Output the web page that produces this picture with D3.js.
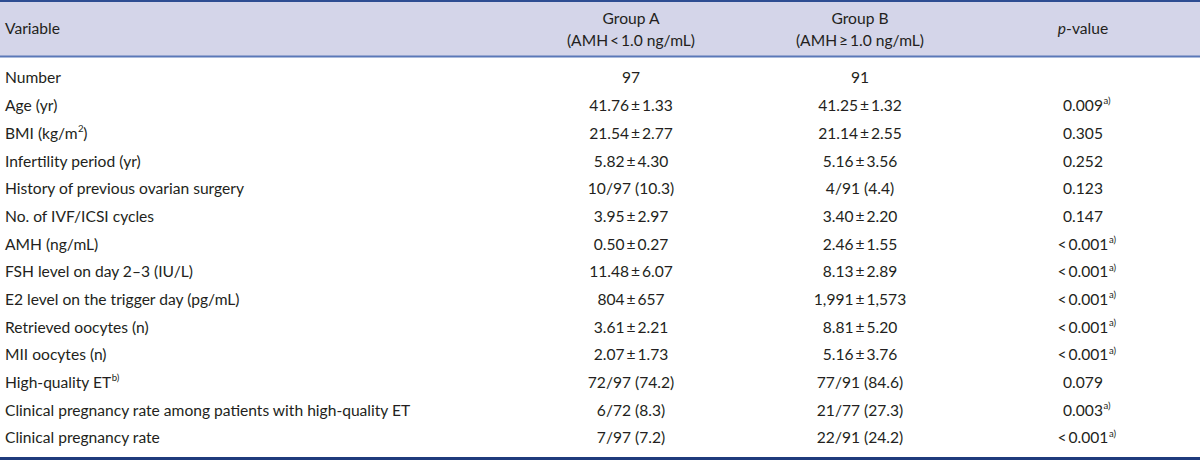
<!DOCTYPE html>
<html><head><meta charset="utf-8">
<script src="https://cdn.jsdelivr.net/npm/d3@7"></script>
<style>html,body{margin:0;padding:0;background:#fff;}svg{display:block;}</style>
</head><body>
<svg id="c" width="1200" height="461"></svg>
<script>
const variables = ["Number","Age (yr)","BMI (kg/m","Infertility period (yr)","History of previous ovarian surgery","No. of IVF/ICSI cycles","AMH (ng/mL)","FSH level on day 2\u20133 (IU/L)","E2 level on the trigger day (pg/mL)","Retrieved oocytes (n)","MII oocytes (n)","High-quality ET","Clinical pregnancy rate among patients with high-quality ET","Clinical pregnancy rate"];
const variableSup = ["","","2)","","","","","","","","","b)","",""];
const groupA = ["97","41.76\u2009\u00b1\u20091.33","21.54\u2009\u00b1\u20092.77","5.82\u2009\u00b1\u20094.30","10/97 (10.3)","3.95\u2009\u00b1\u20092.97","0.50\u2009\u00b1\u20090.27","11.48\u2009\u00b1\u20096.07","804\u2009\u00b1\u2009657","3.61\u2009\u00b1\u20092.21","2.07\u2009\u00b1\u20091.73","72/97 (74.2)","6/72 (8.3)","7/97 (7.2)"];
const groupB = ["91","41.25\u2009\u00b1\u20091.32","21.14\u2009\u00b1\u20092.55","5.16\u2009\u00b1\u20093.56","4/91 (4.4)","3.40\u2009\u00b1\u20092.20","2.46\u2009\u00b1\u20091.55","8.13\u2009\u00b1\u20092.89","1,991\u2009\u00b1\u20091,573","8.81\u2009\u00b1\u20095.20","5.16\u2009\u00b1\u20093.76","77/91 (84.6)","21/77 (27.3)","22/91 (24.2)"];
const pValues = ["","0.009","0.305","0.252","0.123","0.147","<\u20090.001","<\u20090.001","<\u20090.001","<\u20090.001","<\u20090.001","0.079","0.003","<\u20090.001"];
const pSup = ["","a)","","","","","a)","a)","a)","a)","a)","","a)","a)"];
const headerA = ["Group A","(AMH\u2009<\u20091.0 ng/mL)"];
const headerB = ["Group B","(AMH\u2009\u2265\u20091.0 ng/mL)"];

const W = 1200, H = 461;
const svg = d3.select("#c");
const font = "Lato, 'Open Sans', sans-serif";
const ink = "#231f20";
const fs = 15.6;
const supFs = 9.6;

const cols = d3.scaleOrdinal().domain(["var","A","B","p"]).range([5, 631, 860, 1083]);
const y = d3.scaleLinear().domain([0, variables.length - 1]).range([78, 438]);

// header band
svg.append("rect").attr("x", 0).attr("y", 1).attr("width", W).attr("height", 55).attr("fill", "#d4d5e9");
svg.append("line").attr("x1", 0).attr("x2", W).attr("y1", 1).attr("y2", 1).attr("stroke", "#2e4d92").attr("stroke-width", 2);
svg.append("line").attr("x1", 0).attr("x2", W).attr("y1", 56.5).attr("y2", 56.5).attr("stroke", "#5a78b8").attr("stroke-width", 2);
svg.append("line").attr("x1", 0).attr("x2", W).attr("y1", 458.5).attr("y2", 458.5).attr("stroke", "#1f3b7c").attr("stroke-width", 3);

const g = svg.append("g").attr("font-family", font).attr("fill", ink);

function txt(x, yy, s, anchor) {
  return g.append("text").attr("x", x).attr("y", yy).attr("dy", "0.35em")
    .attr("font-size", fs).attr("text-anchor", anchor).text(s);
}
function sup(el, s, anchor) {
  if (!s) return;
  const w = el.node().getComputedTextLength();
  const x0 = +el.attr("x");
  const right = anchor === "middle" ? x0 + w / 2 : x0 + w;
  g.append("text").attr("x", right + 0.5).attr("y", +el.attr("y") - fs * 0.3).attr("dy", "0.35em")
    .attr("font-size", supFs).text(s);
}

// header text
txt(cols("var"), 29, "Variable", "start");
headerA.forEach((s, i) => txt(cols("A"), 19 + i * 22, s, "middle"));
headerB.forEach((s, i) => txt(cols("B"), 19 + i * 22, s, "middle"));
const ph = g.append("text").attr("x", cols("p")).attr("y", 29).attr("dy", "0.35em").attr("font-size", fs).attr("text-anchor", "middle");
ph.append("tspan").attr("font-style", "italic").text("p");
ph.append("tspan").text("-value");

// body
variables.forEach((v, i) => {
  const t = txt(cols("var"), y(i), v, "start");
  if (variableSup[i] === "2)") {
    const w = t.node().getComputedTextLength();
    g.append("text").attr("x", cols("var") + w + 0.5).attr("y", y(i) - fs * 0.3).attr("dy", "0.35em").attr("font-size", supFs).text("2");
    g.append("text").attr("x", cols("var") + w + 0.5 + supFs * 0.55).attr("y", y(i)).attr("dy", "0.35em").attr("font-size", fs).text(")");
  } else sup(t, variableSup[i], "start");
  txt(cols("A"), y(i), groupA[i], "middle");
  txt(cols("B"), y(i), groupB[i], "middle");
  if (pValues[i]) {
    const pt = txt(cols("p"), y(i), pValues[i], "middle");
    sup(pt, pSup[i], "middle");
  }
});
</script>
</body></html>
